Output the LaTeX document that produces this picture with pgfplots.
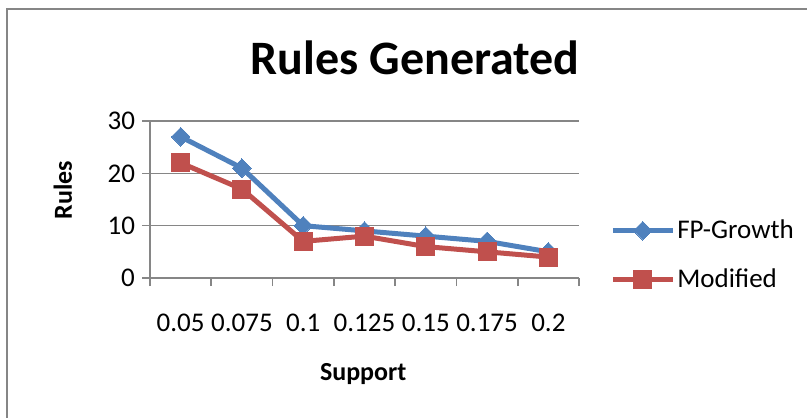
\documentclass[border=0pt]{standalone}
\usepackage{pgfplots}
\pgfplotsset{compat=1.18}
\usepackage{fontspec}
\setmainfont{Carlito}
\definecolor{exblue}{HTML}{4F81BD}
\definecolor{exred}{HTML}{C0504D}
\definecolor{exgray}{HTML}{868686}
\begin{document}
\begin{tikzpicture}
\path[use as bounding box] (0,0) rectangle (403.5pt,208.5pt);
\draw[exgray, line width=0.8pt] (3.5pt,-2pt) -- (3.5pt,204pt) -- (406pt,204pt);
\begin{axis}[
  at={(75pt,69.5pt)}, anchor=south west,
  scale only axis, width=214.5pt, height=78.5pt,
  xmin=-0.5, xmax=6.5, ymin=0, ymax=30,
  axis lines*=left,
  axis line style={exgray, line width=0.8pt},
  ytick={0,10,20,30},
  ymajorgrids, grid style={exgray, line width=0.8pt},
  xtick={0,...,6},
  xticklabels={0.05,0.075,0.1,0.125,0.15,0.175,0.2},
  major x tick style={draw=none},
  minor xtick={-0.5,0.5,...,6.5},
  minor tick length=4pt, major tick length=4pt,
  tick align=outside,
  tick style={exgray, line width=0.8pt},
  /pgf/number format/assume math mode=true,
  tick label style={font=\fontsize{13.5}{15}\selectfont},
  xticklabel style={yshift=-10.5pt},
  title={Rules Generated},
  title style={font=\fontsize{24}{28}\selectfont\bfseries, at={(axis description cs:0.618,1.325)}, anchor=center},
  xlabel={Support},
  xlabel style={font=\fontsize{13}{15}\selectfont\bfseries, at={(axis description cs:0.497,-0.611)}, anchor=center},
  ylabel={Rules},
  ylabel style={font=\fontsize{13}{15}\selectfont\bfseries, at={(axis description cs:-0.203,0.56)}, anchor=center, rotate=0},
  legend style={draw=none, fill=none, inner sep=0pt, font=\fontsize{13.5}{15}\selectfont,
    at={(axis description cs:1.072,0.146)}, anchor=west, row sep=9.5pt,
    nodes={inner xsep=1pt}},
  legend cell align=left,
  legend image code/.code={\draw[#1, mark repeat=2, mark phase=2] plot coordinates {(0pt,0pt) (15pt,0pt) (30pt,0pt)};},
  clip=false,
]
\addplot[exblue, line width=2.5pt, mark=square*, mark size=3.3pt, mark options={solid, line width=0pt, fill=exblue, rotate=45}]
  coordinates {(0,27) (1,21) (2,10) (3,9) (4,8) (5,7) (6,5)};
\addlegendentry{FP-Growth}
\addplot[exred, line width=2.5pt, mark=square*, mark size=4.5pt, mark options={solid, line width=0pt, fill=exred}]
  coordinates {(0,22) (1,17) (2,7) (3,8) (4,6) (5,5) (6,4)};
\addlegendentry{Modified}
\end{axis}
\end{tikzpicture}
\end{document}
